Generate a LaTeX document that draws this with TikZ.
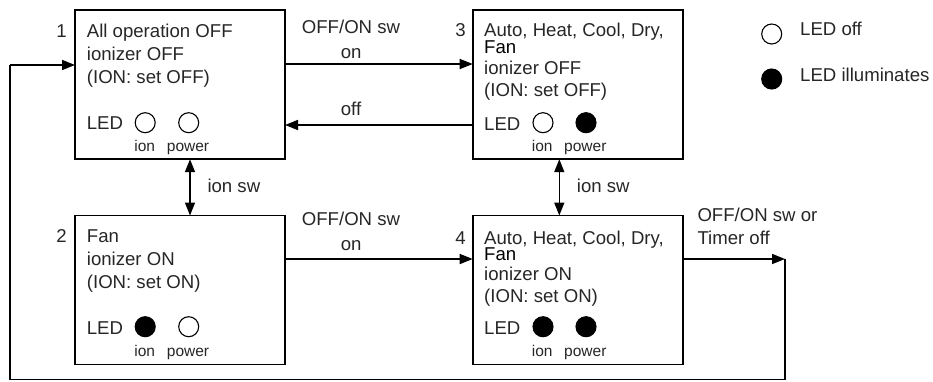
\documentclass[tikz,border=0pt]{standalone}
\usepackage{fontspec}
\setmainfont{Liberation Sans}
\usetikzlibrary{arrows.meta}
\begin{document}
\begin{tikzpicture}[x=1pt,y=-1pt,
 box/.style={draw, line width=1.8pt, minimum width=210pt, minimum height=149pt, inner sep=0pt, outer sep=0pt},
 txt/.style={anchor=base west, inner sep=0pt, font=\fontsize{18.6}{22}\selectfont, text=black!85},
 num/.style={anchor=base east, inner sep=0pt, font=\fontsize{18.6}{22}\selectfont, text=black!85},
 fan/.style={anchor=base west, inner sep=0pt, font=\fontsize{18.6}{22}\selectfont, text=black},
 sml/.style={anchor=base west, inner sep=0pt, font=\fontsize{15.5}{18}\selectfont, text=black!85},
 ledoff/.style={circle, draw, line width=1.1pt, minimum size=20pt, inner sep=0pt},
 ledon/.style={ledoff, fill=black},
 arr/.style={line width=1.6pt, -{Triangle[length=13pt,width=10pt]}},
 dbl/.style={line width=1.6pt, {Triangle[length=13pt,width=10pt]}-{Triangle[length=13pt,width=10pt]}},
 ln/.style={line width=1.6pt}]
\useasboundingbox (0,0) rectangle (933,381);

% boxes
\node[box] (b1) at (180,84.7) {};
\node[box] (b2) at (180,290) {};
\node[box] (b3) at (577.7,84.7) {};
\node[box] (b4) at (577.7,290) {};

% numbers
\node[num] (n1) at (67,37) {1};
\node[num] (n2) at (67,242.7) {2};
\node[num] (n3) at (466,36) {3};
\node[num] (n4) at (466,244.5) {4};

% box 1
\node[txt] (t11) at (86.7,37) {All operation OFF};
\node[txt] (t12) at (86.7,60.5) {ionizer OFF};
\node[txt] (t13) at (86.7,83.7) {(ION: set OFF)};
\node[txt] (t14) at (86.7,129) {LED};
\node[ledoff] (c11) at (145.2,122.7) {};
\node[ledoff] (c12) at (188.7,122.7) {};
\node[sml] (s11) at (134.2,151.7) {ion};
\node[sml] (s12) at (166.7,151.7) {power};

% box 2
\node[txt] (t21) at (86.7,242.7) {Fan};
\node[txt] (t22) at (86.7,265.7) {ionizer ON};
\node[txt] (t23) at (86.7,288.7) {(ION: set ON)};
\node[txt] (t24) at (86.7,334) {LED};
\node[ledon] (c21) at (145.2,326.7) {};
\node[ledoff] (c22) at (188.7,326.7) {};
\node[sml] (s21) at (134.2,356.7) {ion};
\node[sml] (s22) at (166.7,356.7) {power};

% box 3
\node[txt] (t31) at (484,36) {Auto, Heat, Cool, Dry,};
\node[fan] (t32) at (484,53) {Fan};
\node[txt] (t33) at (484,74) {ionizer OFF};
\node[txt] (t34) at (484,96) {(ION: set OFF)};
\node[txt] (t35) at (484,130) {LED};
\node[ledoff] (c31) at (543,122.7) {};
\node[ledon] (c32) at (586,122.7) {};
\node[sml] (s31) at (531.7,151.7) {ion};
\node[sml] (s32) at (564,151.7) {power};

% box 4
\node[txt] (t41) at (484,244.5) {Auto, Heat, Cool, Dry,};
\node[fan] (t42) at (484,260) {Fan};
\node[txt] (t43) at (484,280.5) {ionizer ON};
\node[txt] (t44) at (484,302) {(ION: set ON)};
\node[txt] (t45) at (484,334) {LED};
\node[ledon] (c41) at (543,326.7) {};
\node[ledon] (c42) at (586,326.7) {};
\node[sml] (s41) at (531.7,356.7) {ion};
\node[sml] (s42) at (564,356.7) {power};

% legend
\node[ledoff] (lg1) at (771.7,34) {};
\node[txt] (lt1) at (800,35) {LED off};
\node[ledon] (lg2) at (771.7,79) {};
\node[txt] (lt2) at (800,81.7) {LED illuminates};

% connector labels
\node[txt] (l1) at (301.7,33.3) {OFF/ON sw};
\node[txt] (l2) at (340.7,58.3) {on};
\node[txt] (l3) at (340.7,115) {off};
\node[txt] (l4) at (301.7,225) {OFF/ON sw};
\node[txt] (l5) at (340.7,250.7) {on};
\node[txt] (l6) at (207.3,192.7) {ion sw};
\node[txt] (l7) at (576.7,192.7) {ion sw};
\node[txt] (l8) at (697.3,221.7) {OFF/ON sw or};
\node[txt] (l9) at (697.3,244) {Timer off};

% connectors
\draw[arr] (b1.east |- 0,64) -- (b3.west |- 0,64);
\draw[arr] (b3.west |- 0,125) -- (b1.east |- 0,125);
\draw[dbl] (b1.south -| 190,0) -- (b2.north -| 190,0);
\draw[dbl] (b3.south -| 559.3,0) -- (b4.north -| 559.3,0);
\draw[arr] (b2.east |- 0,259) -- (b4.west |- 0,259);
\coordinate (r1) at (785,259);
\coordinate (r2) at (785,379.6);
\coordinate (r3) at (10,65);
\draw[arr] (b4.east |- r1) -- (r1);
\draw[ln] (r1) -- (r2) -| (r3);
\draw[arr] (r3) -- (b1.west |- r3);
\end{tikzpicture}
\end{document}
